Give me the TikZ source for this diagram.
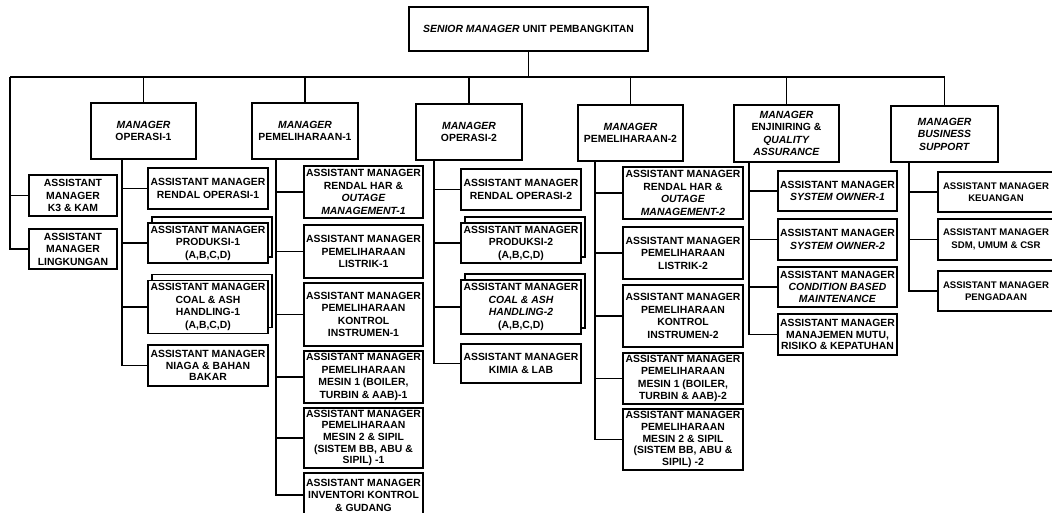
\documentclass[tikz,border=0pt]{standalone}
\usepackage{fontspec}
\setmainfont{Liberation Sans}
\usetikzlibrary{shadows}
\begin{document}
\begin{tikzpicture}[x=1pt,y=-1pt,
  box/.style={draw, line width=1.4pt, fill=white, align=center, inner sep=0pt,
    font=\bfseries\fontsize{10.4}{12.5}\selectfont},
  tight/.style={font=\bfseries\fontsize{10.4}{11.6}\selectfont},
  edge/.style={font=\bfseries\fontsize{9.6}{12.5}\selectfont},
  stack/.style={box, copy shadow={shadow xshift=4pt, shadow yshift=6pt}},
  con/.style={line width=1.2pt}
]
\useasboundingbox (0,0) rectangle (1052,513);
\fill[white] (0,0) rectangle (1052,513);
\clip (0,0) rectangle (1052,513);

% top
\node[box, minimum width=239pt, minimum height=44pt] (top) at (528.5,29) {\textit{SENIOR MANAGER} UNIT PEMBANGKITAN};

% managers
\node[box, minimum width=105pt, minimum height=56pt] (mo1) at (143.5,131) {\textit{MANAGER}\\OPERASI-1};
\node[box, minimum width=106pt, minimum height=56pt] (mp1) at (305,131) {\textit{MANAGER}\\PEMELIHARAAN-1};
\node[box, minimum width=106pt, minimum height=56pt] (mo2) at (469,132) {\textit{MANAGER}\\OPERASI-2};
\node[box, minimum width=105pt, minimum height=56pt] (mp2) at (630.5,133) {\textit{MANAGER}\\PEMELIHARAAN-2};
\node[box, minimum width=105pt, minimum height=57pt] (me) at (786.5,133.5) {\textit{MANAGER}\\ENJINIRING \&\\\textit{QUALITY}\\\textit{ASSURANCE}};
\node[box, minimum width=107pt, minimum height=56pt] (mb) at (944.5,134) {\textit{MANAGER}\\\textit{BUSINESS}\\\textit{SUPPORT}};

% left staff
\node[box, minimum width=88pt, minimum height=41pt] (k3) at (73,195.5) {ASSISTANT\\MANAGER\\K3 \& KAM};
\node[box, minimum width=88pt, minimum height=40pt] (lk) at (73,249) {ASSISTANT\\MANAGER\\LINGKUNGAN};

% operasi-1 children
\node[box, minimum width=120pt, minimum height=41pt] (ro1) at (208,188.5) {ASSISTANT MANAGER\\RENDAL OPERASI-1};
\node[stack, minimum width=120pt, minimum height=40pt] (pr1) at (208,243) {ASSISTANT MANAGER\\PRODUKSI-1\\(A,B,C,D)};
\node[stack, minimum width=120pt, minimum height=53pt] (ca1) at (208,307) {ASSISTANT MANAGER\\COAL \& ASH\\HANDLING-1\\(A,B,C,D)};
\node[box, minimum width=120pt, minimum height=41pt, tight] (ni1) at (208,365.5) {ASSISTANT MANAGER\\NIAGA \& BAHAN\\BAKAR};

% pemeliharaan-1 children
\node[box, minimum width=119pt, minimum height=52pt] (rh1) at (363.5,192) {ASSISTANT MANAGER\\RENDAL HAR \&\\\textit{OUTAGE}\\\textit{MANAGEMENT-1}};
\node[box, minimum width=119pt, minimum height=53pt] (ls1) at (363.5,251.5) {ASSISTANT MANAGER\\PEMELIHARAAN\\LISTRIK-1};
\node[box, minimum width=119pt, minimum height=63pt] (ki1) at (363.5,314.5) {ASSISTANT MANAGER\\PEMELIHARAAN\\KONTROL\\INSTRUMEN-1};
\node[box, minimum width=119pt, minimum height=52pt] (m11) at (363.5,377) {ASSISTANT MANAGER\\PEMELIHARAAN\\MESIN 1 (BOILER,\\TURBIN \& AAB)-1};
\node[box, minimum width=119pt, minimum height=60pt, tight] (m21) at (363.5,438) {ASSISTANT MANAGER\\PEMELIHARAAN\\MESIN 2 \& SIPIL\\(SISTEM BB, ABU \&\\SIPIL) -1};
\node[box, minimum width=119pt, minimum height=44pt] (iv1) at (363.5,495) {ASSISTANT MANAGER\\INVENTORI KONTROL\\\& GUDANG};

% operasi-2 children
\node[box, minimum width=120pt, minimum height=41pt] (ro2) at (521,189.5) {ASSISTANT MANAGER\\RENDAL OPERASI-2};
\node[stack, minimum width=120pt, minimum height=40pt] (pr2) at (521,243) {ASSISTANT MANAGER\\PRODUKSI-2\\(A,B,C,D)};
\node[stack, minimum width=120pt, minimum height=54pt] (ca2) at (521,307) {ASSISTANT MANAGER\\\textit{COAL \& ASH}\\\textit{HANDLING-2}\\(A,B,C,D)};
\node[box, minimum width=120pt, minimum height=39pt] (kl2) at (521,363.5) {ASSISTANT MANAGER\\KIMIA \& LAB};

% pemeliharaan-2 children
\node[box, minimum width=120pt, minimum height=52pt] (rh2) at (683,193) {ASSISTANT MANAGER\\RENDAL HAR \&\\\textit{OUTAGE}\\\textit{MANAGEMENT-2}};
\node[box, minimum width=120pt, minimum height=52pt] (ls2) at (683,253) {ASSISTANT MANAGER\\PEMELIHARAAN\\LISTRIK-2};
\node[box, minimum width=120pt, minimum height=62pt] (ki2) at (683,316) {ASSISTANT MANAGER\\PEMELIHARAAN\\KONTROL\\INSTRUMEN-2};
\node[box, minimum width=120pt, minimum height=51pt] (m12) at (683,378.5) {ASSISTANT MANAGER\\PEMELIHARAAN\\MESIN 1 (BOILER,\\TURBIN \& AAB)-2};
\node[box, minimum width=120pt, minimum height=61pt, tight] (m22) at (683,439.5) {ASSISTANT MANAGER\\PEMELIHARAAN\\MESIN 2 \& SIPIL\\(SISTEM BB, ABU \&\\SIPIL) -2};

% enjiniring children
\node[box, minimum width=119pt, minimum height=40pt] (so1) at (837.5,191) {ASSISTANT MANAGER\\\textit{SYSTEM OWNER-1}};
\node[box, minimum width=119pt, minimum height=41pt] (so2) at (837.5,239.5) {ASSISTANT MANAGER\\\textit{SYSTEM OWNER-2}};
\node[box, minimum width=119pt, minimum height=40pt, tight] (cb) at (837.5,287) {ASSISTANT MANAGER\\\textit{CONDITION BASED}\\\textit{MAINTENANCE}};
\node[box, minimum width=119pt, minimum height=41pt, tight] (mm) at (837.5,334.5) {ASSISTANT MANAGER\\MANAJEMEN MUTU,\\RISIKO \& KEPATUHAN};

% business support children
\node[box, edge, minimum width=116pt, minimum height=40pt] (ku) at (996,192) {ASSISTANT MANAGER\\KEUANGAN};
\node[box, edge, minimum width=116pt, minimum height=41pt] (sd) at (996,239.5) {ASSISTANT MANAGER\\SDM, UMUM \& CSR};
\node[box, edge, minimum width=116pt, minimum height=40pt] (pg) at (996,291) {ASSISTANT MANAGER\\PENGADAAN};

% bus
\coordinate (busL) at (10,77);
\draw[con] (busL) -- (mb.north |- busL);
\draw[con] (top.south) -- (top.south |- busL);
\foreach \m in {mo1,mp1,mo2,mp2,me,mb} \draw[con] (\m.north) -- (\m.north |- busL);
\draw[con] (busL) |- (k3.west);
\draw[con] (busL) |- (lk.west);

% branch spines
\coordinate (vo1) at (122,159);
\coordinate (vp1) at (276,159);
\coordinate (vo2) at (434,160);
\coordinate (vp2) at (595,161);
\coordinate (ve) at (749,162);
\coordinate (vb) at (909,162);
\foreach \c in {ro1,pr1,ca1,ni1} \draw[con] (vo1) |- (\c.west);
\foreach \c in {rh1,ls1,ki1,m11,m21,iv1} \draw[con] (vp1) |- (\c.west);
\foreach \c in {ro2,pr2,ca2,kl2} \draw[con] (vo2) |- (\c.west);
\foreach \c in {rh2,ls2,ki2,m12,m22} \draw[con] (vp2) |- (\c.west);
\foreach \c in {so1,so2,cb,mm} \draw[con] (ve) |- (\c.west);
\foreach \c in {ku,sd,pg} \draw[con] (vb) |- (\c.west);
\end{tikzpicture}
\end{document}
